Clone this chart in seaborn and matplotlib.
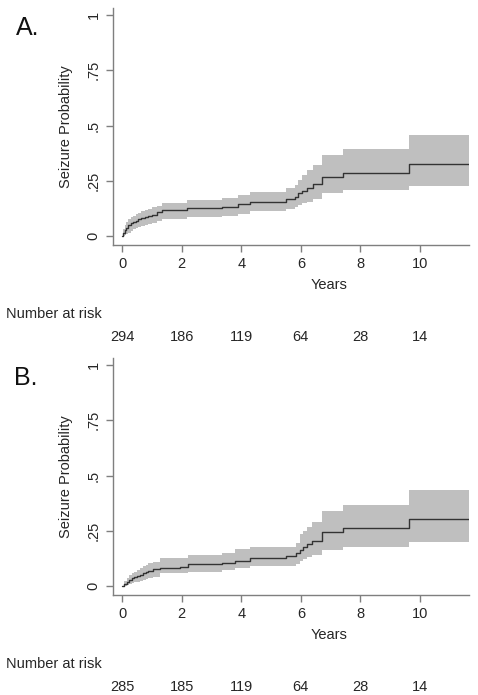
import matplotlib
matplotlib.use("Agg")
import matplotlib.pyplot as plt
import matplotlib.transforms as mtransforms
import numpy as np
import pandas as pd
import seaborn as sns

# ---------------- data ----------------
years_ticks = [0, 2, 4, 6, 8, 10]
prob_ticks = [0, 0.25, 0.5, 0.75, 1]
prob_tick_labels = ["0", ".25", ".5", ".75", "1"]

# Panel A
time_a = [0, 0.05, 0.1, 0.15, 0.21, 0.3, 0.38, 0.47, 0.55, 0.65, 0.77, 0.88, 1.0,
          1.16, 1.33, 2.17, 3.35, 3.9, 4.3, 5.5, 5.8, 5.92, 6.05, 6.2, 6.42, 6.7,
          7.43, 9.64, 11.64]
prob_a = [0, 0.012, 0.027, 0.038, 0.05, 0.058, 0.065, 0.07, 0.075, 0.081, 0.087,
          0.091, 0.095, 0.107, 0.116, 0.125, 0.13, 0.143, 0.155, 0.167, 0.178,
          0.193, 0.205, 0.219, 0.234, 0.268, 0.287, 0.324, 0.324]
upper_a = [0, 0.03, 0.05, 0.062, 0.075, 0.084, 0.09, 0.098, 0.105, 0.112, 0.119,
           0.124, 0.13, 0.138, 0.148, 0.165, 0.17, 0.185, 0.2, 0.215, 0.231,
           0.253, 0.276, 0.299, 0.321, 0.366, 0.392, 0.457, 0.457]
lower_a = [0, 0.002, 0.005, 0.01, 0.015, 0.022, 0.03, 0.035, 0.04, 0.045, 0.05,
           0.055, 0.06, 0.07, 0.075, 0.085, 0.092, 0.1, 0.113, 0.122, 0.13,
           0.14, 0.148, 0.155, 0.167, 0.193, 0.208, 0.226, 0.226]
risk_a = [294, 186, 119, 64, 28, 14]

# Panel B
time_b = [0, 0.08, 0.16, 0.24, 0.32, 0.4, 0.49, 0.6, 0.72, 0.8, 0.88, 1.05,
          1.28, 1.95, 2.23, 3.35, 3.8, 4.3, 5.5, 5.85, 5.96, 6.08, 6.2, 6.36,
          6.7, 7.4, 9.64, 11.64]
prob_b = [0, 0.01, 0.02, 0.028, 0.035, 0.04, 0.045, 0.051, 0.057, 0.063, 0.069,
          0.077, 0.081, 0.087, 0.098, 0.106, 0.115, 0.125, 0.136, 0.148, 0.163,
          0.176, 0.189, 0.205, 0.246, 0.261, 0.302, 0.302]
upper_b = [0, 0.022, 0.035, 0.05, 0.06, 0.065, 0.072, 0.08, 0.09, 0.097, 0.104,
           0.11, 0.125, 0.125, 0.14, 0.151, 0.166, 0.178, 0.178, 0.193, 0.234,
           0.25, 0.268, 0.291, 0.339, 0.367, 0.434, 0.434]
lower_b = [0, 0.002, 0.005, 0.008, 0.012, 0.016, 0.02, 0.024, 0.027, 0.031, 0.035,
           0.039, 0.057, 0.057, 0.065, 0.072, 0.08, 0.09, 0.09, 0.1, 0.113,
           0.122, 0.13, 0.14, 0.163, 0.178, 0.198, 0.198]
risk_b = [285, 185, 119, 64, 28, 14]

panels = [
    ("A.", time_a, prob_a, lower_a, upper_a, risk_a),
    ("B.", time_b, prob_b, lower_b, upper_b, risk_b),
]

# ---------------- style ----------------
sns.set_style("white")
plt.rcParams["font.family"] = ["Liberation Sans", "DejaVu Sans"]

W, H = 478, 695
fig = plt.figure(figsize=(W / 100, H / 100), dpi=100)
fig.patch.set_facecolor("white")

axis_col = "#7f7f7f"
text_col = "#262626"
fill_col = "#bfbfbf"
line_col = "#333333"

# pixel boxes: (left, top, right, bottom)
boxes = [(113, 8, 469, 245), (113, 358, 469, 595)]
letter_pos = [(16, 28), (14, 378)]

for (label, t, p, lo, up, risk), box, lp in zip(panels, boxes, letter_pos):
    l, tp, r, b = box
    ax = fig.add_axes([l / W, 1 - b / H, (r - l) / W, (b - tp) / H])
    ax.set_facecolor("white")

    ax.fill_between(t, lo, up, step="post", color=fill_col, linewidth=0)
    df = pd.DataFrame({"Years": t, "Prob": p})
    sns.lineplot(data=df, x="Years", y="Prob", ax=ax, color=line_col,
                 linewidth=1.0, drawstyle="steps-post", estimator=None)

    x0 = -9 / 29.8
    x1 = 11.64
    ax.set_xlim(x0, x1)
    ax.set_ylim(-9 / 221, 1 + 7 / 221)

    for s in ["top", "right"]:
        ax.spines[s].set_visible(False)
    for s in ["left", "bottom"]:
        ax.spines[s].set_color(axis_col)
        ax.spines[s].set_linewidth(1.0)

    ax.set_xticks(years_ticks)
    ax.set_xticklabels([str(v) for v in years_ticks])
    ax.set_yticks(prob_ticks)
    ax.set_yticklabels(prob_tick_labels, rotation=90, va="center")
    ax.tick_params(axis="both", direction="out", length=5, width=1.0,
                   color=axis_col, labelsize=10.5, labelcolor=text_col, pad=4,
                   bottom=True, left=True)
    ax.set_xlabel("")
    ax.set_ylabel("Seizure Probability", fontsize=10.5, color=text_col, labelpad=10)

    hpx = b - tp
    # "Years" label
    ax.text((329 - l) / (r - l), -40 / hpx, "Years",
            transform=ax.transAxes, ha="center", va="center",
            fontsize=10.5, color=text_col)

    # Number at risk
    fig.text(6 / W, 1 - (b + 69) / H, "Number at risk", ha="left", va="center",
             fontsize=10.5, color=text_col)
    trans = mtransforms.blended_transform_factory(ax.transData, ax.transAxes)
    for xv, n in zip(years_ticks, risk):
        ax.text(xv, -92 / hpx, str(n), transform=trans,
                ha="center", va="center", fontsize=10.5, color=text_col,
                clip_on=False)

    fig.text(lp[0] / W, 1 - lp[1] / H, label, ha="left", va="center",
             fontsize=18, color="#111111")

fig.savefig("out.png", dpi=100, facecolor="white")
